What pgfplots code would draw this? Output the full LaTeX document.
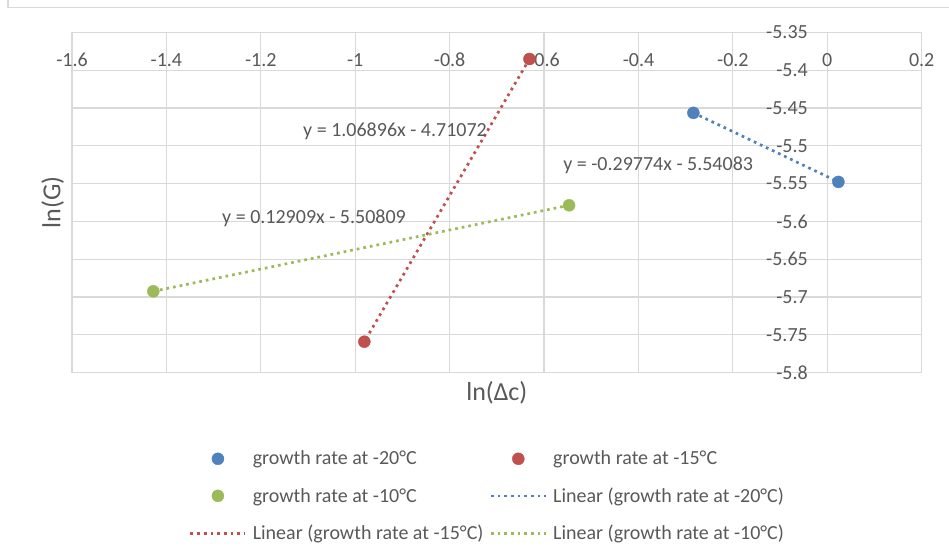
\documentclass[border=0pt]{standalone}
\usepackage{pgfplots}
\pgfplotsset{compat=1.18}
\usepackage{fontspec}
\setmainfont{Carlito}
\definecolor{txt}{HTML}{595959}
\definecolor{gridc}{HTML}{D9D9D9}
\definecolor{cblue}{HTML}{4F81BD}
\definecolor{cred}{HTML}{C0504D}
\definecolor{cgreen}{HTML}{9BBB59}
\pgfplotsset{
  markleg/.style={legend image code/.code={\path (0pt,0pt) (55pt,0pt); \draw[##1] plot coordinates {(27.5pt,0pt)};}},
  lineleg/.style={legend image code/.code={\draw[##1] (0pt,0pt) -- (55pt,0pt);}},
  dotline/.style={no marks, line width=2.7pt, dash pattern=on 2.7pt off 4pt},
}
\begin{document}
\begin{tikzpicture}[x=1pt,y=1pt]
\useasboundingbox (0,0) rectangle (949,556);
\fill[white] (0,0) rectangle (949,556);
\draw[gridc, line width=1.6pt] (8,556) -- (8,548.5) -- (949,548.5);
\begin{axis}[
  at={(72pt,183.3pt)}, anchor=south west,
  scale only axis, width=849.7pt, height=340.4pt,
  xmin=-1.6, xmax=0.2, ymin=-5.8, ymax=-5.35,
  xtick={-1.6,-1.4,-1.2,-1,-0.8,-0.6,-0.4,-0.2,0,0.2},
  xticklabels={-1.6,-1.4,-1.2,-1,-0.8,-0.6,-0.4,-0.2,0,0.2},
  ytick={-5.8,-5.75,-5.7,-5.65,-5.6,-5.55,-5.5,-5.45,-5.4,-5.35},
  yticklabels={-5.8,-5.75,-5.7,-5.65,-5.6,-5.55,-5.5,-5.45,-5.4,-5.35},
  xticklabel pos=upper,
  xticklabel style={anchor=center, yshift=-27.5pt, inner sep=0pt},
  yticklabel style={anchor=east, inner sep=0pt, xshift=736pt},
  major tick length=0pt,
  grid=major, grid style={gridc, line width=1.2pt},
  axis line style={gridc, line width=1.2pt},
  tick label style={font=\fontsize{20}{24}\selectfont, text=txt},
  xlabel={ln(Δc)}, ylabel={ln(G)},
  label style={font=\fontsize{26}{30}\selectfont, text=txt},
  xlabel style={at={(axis description cs:0.5,-0.0597)}, anchor=center},
  ylabel style={at={(axis description cs:-0.0227,0.5)}, anchor=center},
  legend columns=2,
  legend cell align=left,
  legend style={at={(axis description cs:0.134,-0.218)}, anchor=north west,
    draw=none, fill=none, font=\fontsize{20}{24}\selectfont, text=txt,
    row sep=17.3pt,
    /tikz/every odd column/.append style={column sep=4pt},
    /tikz/every even column/.append style={column sep=4pt}},
]
\addplot[only marks, mark=*, mark size=6pt, color=cblue, mark options={draw=cblue, fill=cblue}, markleg]
  coordinates {(-0.2837,-5.4565) (0.0235,-5.5478)};
\addlegendentry{growth rate at -20°C}
\addplot[only marks, mark=*, mark size=6pt, color=cred, mark options={draw=cred, fill=cred}, markleg]
  coordinates {(-0.6310,-5.3853) (-0.9807,-5.7590)};
\addlegendentry{growth rate at -15°C}
\addplot[only marks, mark=*, mark size=6pt, color=cgreen, mark options={draw=cgreen, fill=cgreen}, markleg]
  coordinates {(-1.4277,-5.6924) (-0.5470,-5.5787)};
\addlegendentry{growth rate at -10°C}
\addplot[dotline, color=cblue, lineleg]
  coordinates {(-0.2837,-5.4564) (0.0235,-5.5478)};
\addlegendentry{Linear (growth rate at -20°C)}
\addplot[dotline, color=cred, lineleg]
  coordinates {(-0.6310,-5.3852) (-0.9807,-5.7590)};
\addlegendentry{Linear (growth rate at -15°C)}
\addplot[dotline, color=cgreen, lineleg]
  coordinates {(-1.4277,-5.6924) (-0.5470,-5.5787)};
\addlegendentry{Linear (growth rate at -10°C)}
\node[anchor=west, font=\fontsize{20}{24}\selectfont, text=txt, inner sep=0pt] at (axis cs:-1.1106,-5.4815) {y = 1.06896x - 4.71072};
\node[anchor=west, font=\fontsize{20}{24}\selectfont, text=txt, inner sep=0pt] at (axis cs:-0.5597,-5.5255) {y = -0.29774x - 5.54083};
\node[anchor=west, font=\fontsize{20}{24}\selectfont, text=txt, inner sep=0pt] at (axis cs:-1.2822,-5.5956) {y = 0.12909x - 5.50809};
\end{axis}
\end{tikzpicture}
\end{document}
